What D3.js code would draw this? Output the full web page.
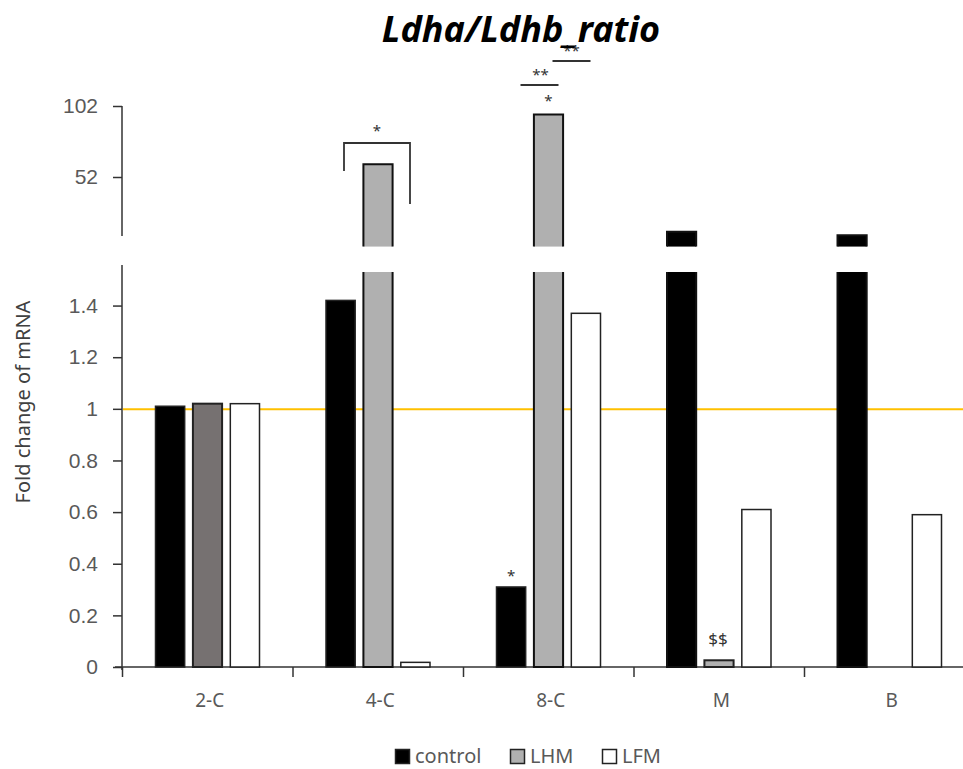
<!DOCTYPE html>
<html>
<head>
<meta charset="utf-8">
<script src="https://cdn.jsdelivr.net/npm/d3@7"></script>
<style>
  body { margin: 0; background: #fff; }
  svg { font-family: "Noto Sans", "DejaVu Sans", sans-serif; }
</style>
</head>
<body>
<div id="chart"></div>
<script>
// data
var categories = ["2-C", "4-C", "8-C", "M", "B"];
var seriesNames = ["control", "LHM", "LFM"];
var control = [1.01, 1.42, 0.31, 13.5, 11];
var lhm = [1.02, 61, 96, 0.026, 0];
var lfm = [1.02, 0.018, 1.37, 0.61, 0.59];
var lowerTicks = [0, 0.2, 0.4, 0.6, 0.8, 1, 1.2, 1.4];
var upperTicks = [52, 102];

var width = 963, height = 769;
var fills = { control: "#000000", LHM: "#b0b0b0", LFM: "#ffffff" };

var svg = d3.select("#chart").append("svg")
    .attr("width", width)
    .attr("height", height);

var x0 = d3.scaleBand().domain(categories).range([122.5, 975]);
var x1 = d3.scaleBand().domain(seriesNames).range([33, 137]).paddingInner(0.22);

// two y panels for the broken axis
var yL = d3.scaleLinear().domain([0, 1.53]).range([667, 272]);
var yU = d3.scaleLinear().domain([52, 102]).range([177, 106]);
var upperBase = yU(3);

var rows = categories.map(function (c, i) {
    return { cat: c, values: [
        { key: "control", value: control[i] },
        { key: "LHM", value: lhm[i] },
        { key: "LFM", value: lfm[i] }
    ] };
});

// y axes
var axisLower = d3.axisLeft(yL).tickValues(lowerTicks).tickSize(9).tickPadding(15)
    .tickFormat(d3.format(""));
var gL = svg.append("g").attr("transform", "translate(122,0)").call(axisLower);
gL.select(".domain").remove();
gL.append("line").attr("y1", 265).attr("y2", 670).attr("stroke", "#333").attr("stroke-width", 1.5);

var axisUpper = d3.axisLeft(yU).tickValues(upperTicks).tickSize(9).tickPadding(15);
var gU = svg.append("g").attr("transform", "translate(122,0)").call(axisUpper);
gU.select(".domain").remove();
gU.append("line").attr("y1", 106).attr("y2", 236).attr("stroke", "#333").attr("stroke-width", 1.5);

svg.selectAll(".tick line").attr("stroke", "#333").attr("stroke-width", 1.5);
svg.selectAll(".tick text").attr("fill", "#595959").style("font-size", "21px");

// x axis
svg.append("line").attr("x1", 115).attr("x2", width).attr("y1", 667).attr("y2", 667)
    .attr("stroke", "#333").attr("stroke-width", 1.5);
svg.append("g").selectAll("line").data(categories).enter().append("line")
    .attr("x1", function (d) { return x0(d); })
    .attr("x2", function (d) { return x0(d); })
    .attr("y1", 667).attr("y2", 677)
    .attr("stroke", "#333").attr("stroke-width", 1.5);
svg.append("g").selectAll("text").data(categories).enter().append("text")
    .attr("x", function (d) { return x0(d) + x0.bandwidth() / 2 + 2; })
    .attr("y", 707)
    .attr("text-anchor", "middle")
    .attr("fill", "#595959")
    .style("font-size", "19px")
    .text(function (d) { return d; });

// reference line at 1
svg.append("line").attr("x1", 123).attr("x2", width)
    .attr("y1", yL(1) + 0.5).attr("y2", yL(1) + 0.5)
    .attr("stroke", "#ffc000").attr("stroke-width", 2);

function barFill(d, cat) {
    if (d.key === "LHM" && cat === "2-C") return "#767171";
    return fills[d.key];
}
function strokeW(d) { return d.key === "LHM" ? 2 : 1.5; }

var groups = svg.selectAll(".grp").data(rows).enter().append("g")
    .attr("class", "grp")
    .attr("transform", function (d) { return "translate(" + x0(d.cat) + ",0)"; });

groups.each(function (row) {
    var g = d3.select(this);
    row.values.forEach(function (d) {
        if (d.value <= 0) return;
        var bx = x1(d.key), bw = x1.bandwidth();
        var lowMax = yL.domain()[1];
        var top = yL(Math.min(d.value, lowMax));
        if (d.value <= lowMax) {
            g.append("rect")
                .attr("x", bx).attr("y", top)
                .attr("width", bw).attr("height", yL(0) - top)
                .attr("fill", barFill(d, row.cat))
                .attr("stroke", "#222").attr("stroke-width", strokeW(d));
            return;
        }
        // lower piece, open at the top
        g.append("rect")
            .attr("x", bx).attr("y", top)
            .attr("width", bw).attr("height", yL(0) - top)
            .attr("fill", barFill(d, row.cat));
        g.append("path")
            .attr("d", "M" + bx + "," + top + "V" + yL(0) + "H" + (bx + bw) + "V" + top)
            .attr("fill", "none").attr("stroke", "#111").attr("stroke-width", 2);
        // upper piece, open at the bottom
        var ut = yU(d.value);
        g.append("rect")
            .attr("x", bx).attr("y", ut)
            .attr("width", bw).attr("height", upperBase - ut)
            .attr("fill", barFill(d, row.cat));
        g.append("path")
            .attr("d", "M" + bx + "," + upperBase + "V" + ut + "H" + (bx + bw) + "V" + upperBase)
            .attr("fill", "none").attr("stroke", "#111").attr("stroke-width", 2);
    });
});

// significance marks
var ann = svg.append("g").attr("fill", "#333").style("font-size", "15px").attr("text-anchor", "middle");
var lineStyle = function (sel) { return sel.attr("fill", "none").attr("stroke", "#333").attr("stroke-width", 1.8); };

var c4 = x0("4-C"), c8 = x0("8-C");
lineStyle(ann.append("path").attr("d", "M" + (c4 + 51) + ",171V143H" + (c4 + 117) + "V204"));
ann.append("text").attr("x", c4 + 84).attr("y", 136).text("*");

ann.append("text").attr("x", c8 + x1("LHM") + x1.bandwidth() / 2).attr("y", 106).text("*");
lineStyle(ann.append("line").attr("x1", c8 + 57).attr("x2", c8 + 95).attr("y1", 85).attr("y2", 85));
ann.append("text").attr("x", c8 + 77).attr("y", 80).text("**");
lineStyle(ann.append("line").attr("x1", c8 + 89).attr("x2", c8 + 127).attr("y1", 61).attr("y2", 61));
ann.append("text").attr("x", c8 + 108).attr("y", 56).text("**");

ann.append("text").attr("x", c8 + x1("control") + x1.bandwidth() / 2).attr("y", 581).text("*");
ann.append("text").attr("x", x0("M") + x1("LHM") + x1.bandwidth() / 2 - 1).attr("y", 645)
    .style("font-size", "17px").text("$$");

// title
svg.append("text")
    .attr("x", 521).attr("y", 42)
    .attr("text-anchor", "middle")
    .style("font-size", "36px").style("font-weight", "bold").style("font-style", "italic")
    .attr("fill", "#000")
    .text("Ldha/Ldhb_ratio");

// y label
svg.append("text")
    .attr("transform", "translate(30,402) rotate(-90)")
    .attr("text-anchor", "middle")
    .attr("fill", "#404040")
    .style("font-size", "20px")
    .text("Fold change of mRNA");

// legend
var legX = [395, 510, 602];
var leg = svg.append("g").selectAll("g").data(seriesNames).enter().append("g")
    .attr("transform", function (d, i) { return "translate(" + legX[i] + ",749)"; });
leg.append("rect").attr("x", 0.5).attr("y", 0.5).attr("width", 14).attr("height", 14)
    .attr("fill", function (d) { return fills[d]; })
    .attr("stroke", "#222").attr("stroke-width", 1.5);
leg.append("text").attr("x", 20).attr("y", 14)
    .attr("fill", "#595959").style("font-size", "20px")
    .text(function (d) { return d; });
</script>
</body>
</html>
